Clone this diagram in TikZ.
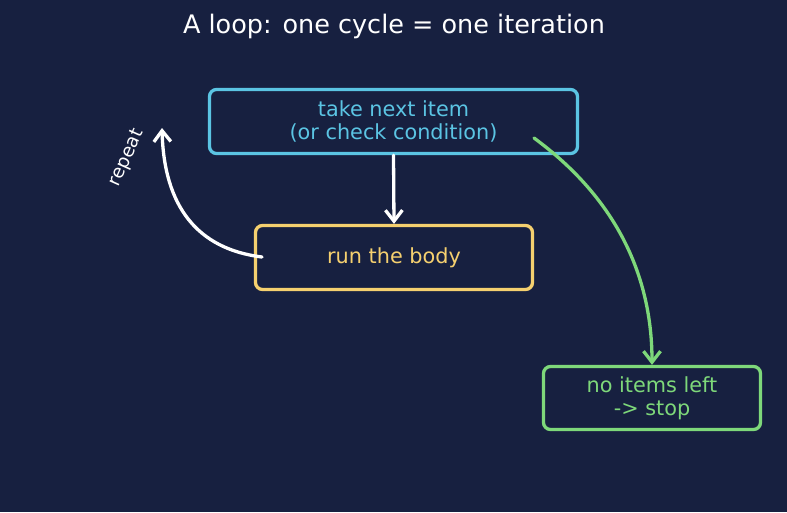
\documentclass[tikz,border=0pt]{standalone}
\usepackage{fontspec}
\setmainfont{DejaVu Sans}
\usetikzlibrary{arrows.meta}
\definecolor{bg}{HTML}{172040}
\definecolor{cblue}{HTML}{5BC4E3}
\definecolor{cyellow}{HTML}{F5D06F}
\definecolor{cgreen}{HTML}{7ED87A}
\tikzset{
  box/.style={draw, line width=3.3pt, rounded corners=7pt, align=center, inner sep=0pt,
    font=\fontsize{20.8}{23}\selectfont},
  conn/.style={line width=3.3pt, line cap=round, -{Straight Barb[length=11pt,width=17pt,line width=3.3pt]}},
}
\begin{document}
\begin{tikzpicture}[x=1pt,y=-1pt]
\fill[bg] (0,0) rectangle (787,512);
\useasboundingbox (0,0) rectangle (787,512);
\node[text=white, font=\fontsize{25.5}{30}\selectfont] (title) at (394,26) {A loop: one cycle = one iteration};
\node[box, draw=cblue, text=cblue, minimum width=368pt, minimum height=64pt] (take) at (393.5,121.5) {take next item\\(or check condition)};
\node[box, draw=cyellow, text=cyellow, minimum width=277pt, minimum height=64pt] (body) at (394,257.5) {run the body};
\node[box, draw=cgreen, text=cgreen, minimum width=217pt, minimum height=63pt] (stop) at (652,398) {no items left\\-> stop};
\coordinate (rs) at (262,257);
\coordinate (re) at (162,128);
\coordinate (gs) at (534,138);
\draw[conn, white] (take.south) -- (body.north);
\draw[conn, white] (rs) .. controls (197,249) and (164,206) .. (re);
\draw[conn, cgreen] (gs) .. controls (613,196) and (652,272) .. (stop.north);
\node[text=white, rotate=66, font=\fontsize{18.5}{20}\selectfont] (rep) at (127,158) {repeat};
\end{tikzpicture}
\end{document}
